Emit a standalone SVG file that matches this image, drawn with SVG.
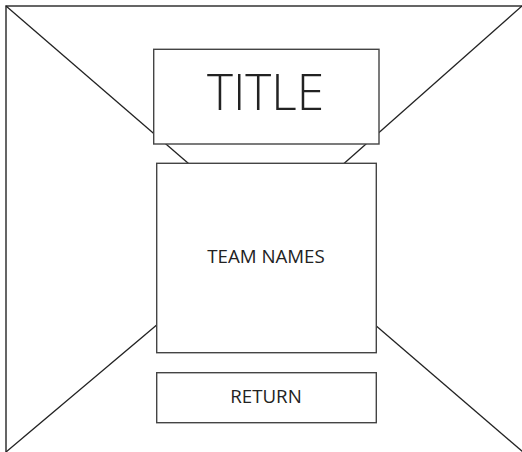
<svg xmlns="http://www.w3.org/2000/svg" width="522" height="452" viewBox="0 0 522 452">
<style>
.frame{fill:none;stroke:#333;stroke-width:1.5}
.box{fill:#fff;stroke:#444;stroke-width:1.4}
.ln{stroke:#222;stroke-width:1.3;fill:none}
text{font-family:"Open Sans","Noto Sans",sans-serif;fill:#222;text-anchor:middle}
.t1{font-size:49.5px;font-weight:350}
.t2{font-size:18.7px}
</style>
<rect class="frame" x="6" y="6" width="520" height="450"/>
<g id="connectors">
<line class="ln" x1="6" y1="6" x2="188.5" y2="163.5"/>
<line class="ln" x1="522" y1="6" x2="344" y2="163.5"/>
<line class="ln" x1="6" y1="452" x2="156.7" y2="325"/>
<line class="ln" x1="376.3" y1="326" x2="523" y2="452"/>
</g>
<g id="title">
<rect class="box" x="153.7" y="49.3" width="225.3" height="94.7"/>
<text class="t1" x="265.5" y="110">TITLE</text>
</g>
<g id="team-names">
<rect class="box" x="156.7" y="163.3" width="219.6" height="189.4"/>
<text class="t2" x="266" y="263.3">TEAM NAMES</text>
</g>
<g id="return">
<rect class="box" x="156.7" y="372.7" width="219.6" height="50"/>
<text class="t2" x="266" y="403.3">RETURN</text>
</g>
</svg>
